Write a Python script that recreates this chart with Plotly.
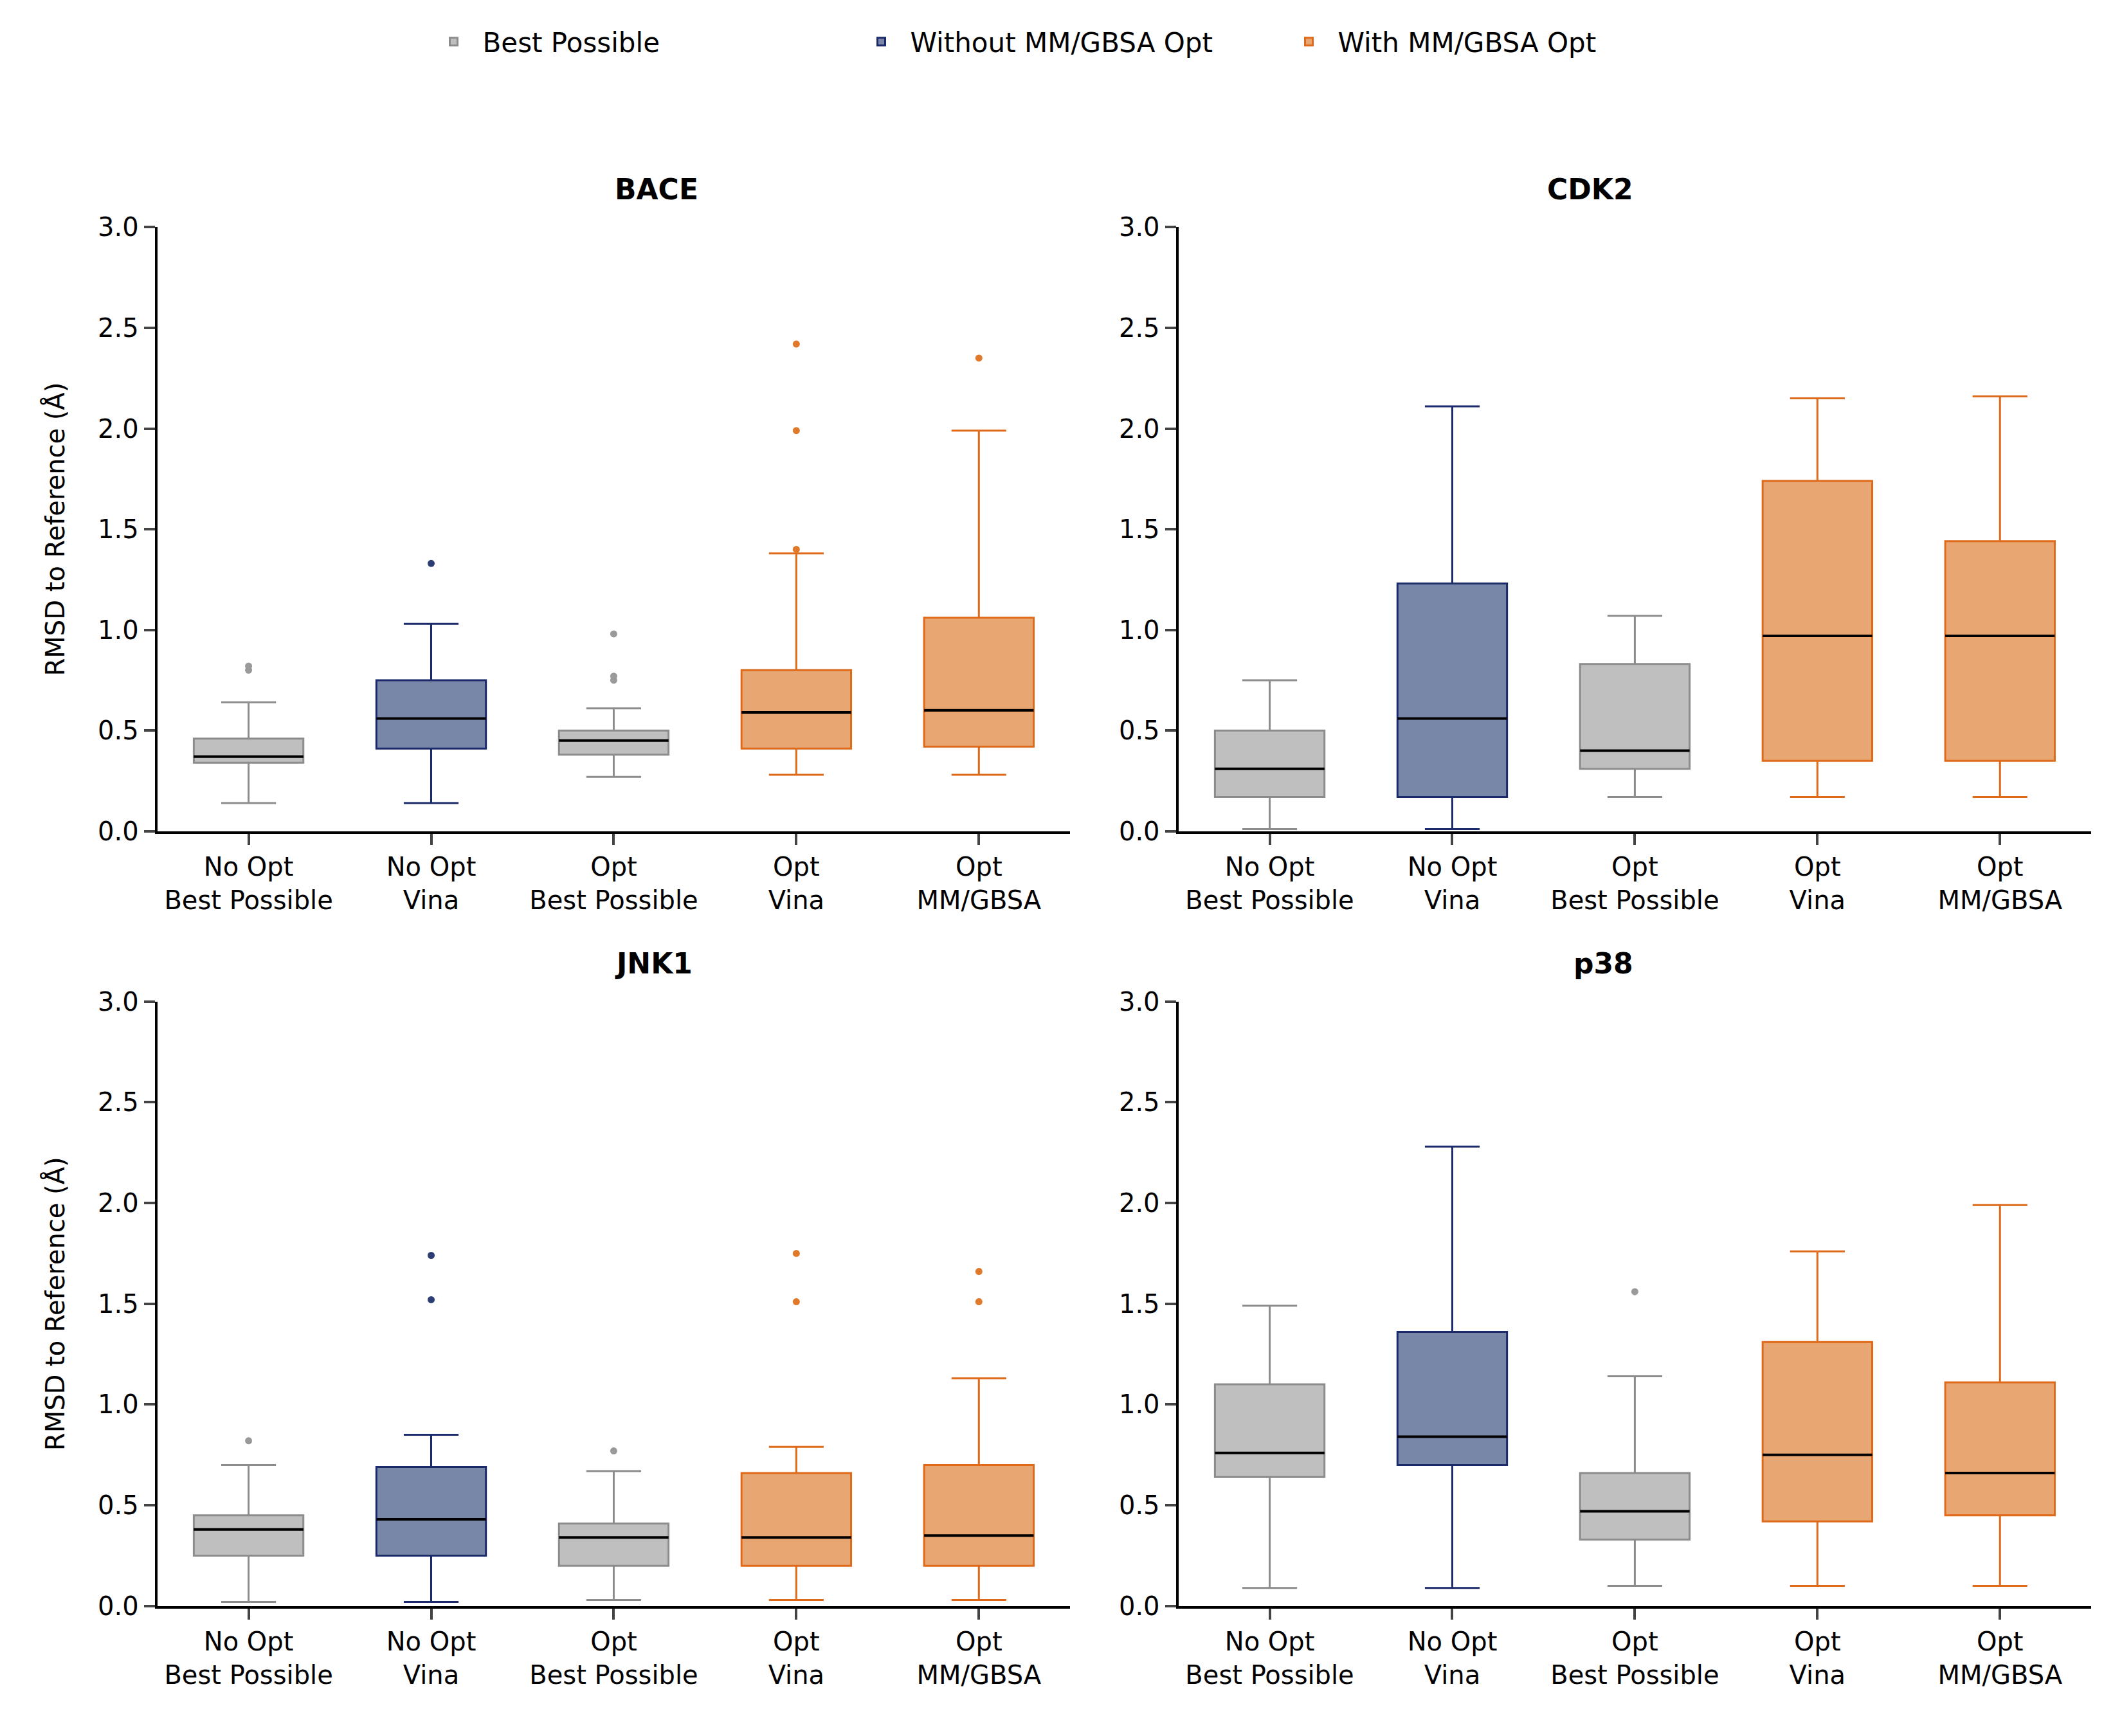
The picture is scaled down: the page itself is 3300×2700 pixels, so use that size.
import plotly.graph_objects as go

categories = ["No Opt<br>Best Possible", "No Opt<br>Vina", "Opt<br>Best Possible", "Opt<br>Vina", "Opt<br>MM/GBSA"]
groups = ["Best Possible", "Without MM/GBSA Opt", "Best Possible", "With MM/GBSA Opt", "With MM/GBSA Opt"]
legend_order = ["Best Possible", "Without MM/GBSA Opt", "With MM/GBSA Opt"]
panels = ["BACE", "CDK2", "JNK1", "p38"]

# [lowerfence, q1, median, q3, upperfence] per category
bace = [[0.14, 0.34, 0.37, 0.46, 0.64], [0.14, 0.41, 0.56, 0.75, 1.03], [0.27, 0.38, 0.45, 0.50, 0.61],
        [0.28, 0.41, 0.59, 0.80, 1.38], [0.28, 0.42, 0.60, 1.06, 1.99]]
bace_out = [[0.80, 0.82], [1.33], [0.75, 0.77, 0.98], [1.40, 1.99, 2.42], [2.35]]
cdk2 = [[0.01, 0.17, 0.31, 0.50, 0.75], [0.01, 0.17, 0.56, 1.23, 2.11], [0.17, 0.31, 0.40, 0.83, 1.07],
        [0.17, 0.35, 0.97, 1.74, 2.15], [0.17, 0.35, 0.97, 1.44, 2.16]]
cdk2_out = [[], [], [], [], []]
jnk1 = [[0.02, 0.25, 0.38, 0.45, 0.70], [0.02, 0.25, 0.43, 0.69, 0.85], [0.03, 0.20, 0.34, 0.41, 0.67],
        [0.03, 0.20, 0.34, 0.66, 0.79], [0.03, 0.20, 0.35, 0.70, 1.13]]
jnk1_out = [[0.82], [1.52, 1.74], [0.77], [1.51, 1.75], [1.51, 1.66]]
p38 = [[0.09, 0.64, 0.76, 1.10, 1.49], [0.09, 0.70, 0.84, 1.36, 2.28], [0.10, 0.33, 0.47, 0.66, 1.14],
       [0.10, 0.42, 0.75, 1.31, 1.76], [0.10, 0.45, 0.66, 1.11, 1.99]]
p38_out = [[], [], [1.56], [], []]

stats = [bace, cdk2, jnk1, p38]
outs = [bace_out, cdk2_out, jnk1_out, p38_out]

style = {
    "Best Possible": dict(fill="#bfbfbf", line="#8c8c8c", pt="#9a9a9a"),
    "Without MM/GBSA Opt": dict(fill="#7886a8", line="#1b2a6b", pt="#2b3d73"),
    "With MM/GBSA Opt": dict(fill="#e8a772", line="#de6a1a", pt="#e07a2a"),
}

xdom = [[0.0717, 0.5019], [0.5529, 0.9831]]
ydom = [[0.5246, 0.8785], [0.0705, 0.4248]]
W = 0.6
fig = go.Figure()
for g in legend_order:
    s = style[g]
    fig.add_trace(go.Bar(x=[None], y=[None], name=g, marker=dict(color=s["fill"], line=dict(color=s["line"], width=3)),
                         showlegend=True))
for p in range(4):
    r, c = divmod(p, 2)
    n = p + 1
    xa = "x" if n == 1 else f"x{n}"
    ya = "y" if n == 1 else f"y{n}"
    for i, cat in enumerate(categories):
        g = groups[i]
        s = style[g]
        lf, q1, med, q3, uf = stats[p][i]
        fig.add_trace(go.Box(x=[i], q1=[q1], median=[med], q3=[q3], lowerfence=[lf], upperfence=[uf],
                             width=W, whiskerwidth=0.5, fillcolor=s["fill"], line=dict(color=s["line"], width=3),
                             name=g, showlegend=False, xaxis=xa, yaxis=ya, boxpoints=False,
                             hoverinfo="skip"))
        fig.add_trace(go.Scatter(x=[i - W / 2, i + W / 2], y=[med, med], mode="lines",
                                 line=dict(color="black", width=4), showlegend=False, xaxis=xa, yaxis=ya))
        if outs[p][i]:
            fig.add_trace(go.Scatter(x=[i] * len(outs[p][i]), y=outs[p][i], mode="markers",
                                     marker=dict(color=s["pt"], size=11), showlegend=False, xaxis=xa, yaxis=ya))
    ax = dict(domain=xdom[c], anchor=ya, range=[-0.5, 4.5], tickvals=list(range(5)), ticktext=categories,
              showline=True, linecolor="black", linewidth=4, ticks="outside", ticklen=17, tickwidth=4,
              showgrid=False, zeroline=False, tickfont=dict(size=40, color="black"))
    ay = dict(domain=ydom[r], anchor=xa, range=[0, 3.0], tickvals=[0, 0.5, 1, 1.5, 2, 2.5, 3],
              ticktext=["0.0", "0.5", "1.0", "1.5", "2.0", "2.5", "3.0"],
              showline=True, linecolor="black", linewidth=4, ticks="outside", ticklen=17, tickwidth=4,
              showgrid=False, zeroline=False, tickfont=dict(size=40, color="black"))
    if c == 0:
        ay["title"] = dict(text="RMSD to Reference (Å)", font=dict(size=40, color="black"), standoff=40)
    fig.layout["xaxis" if n == 1 else f"xaxis{n}"] = ax
    fig.layout["yaxis" if n == 1 else f"yaxis{n}"] = ay
    fig.add_annotation(text=f"<b>{panels[p]}</b>", x=sum(xdom[c]) / 2, y=ydom[r][1] + 0.012,
                       xref="paper", yref="paper", showarrow=False, yanchor="bottom",
                       font=dict(size=44, color="black"))

fig.update_layout(width=3300, height=2700, plot_bgcolor="white", paper_bgcolor="white",
                  margin=dict(l=0, r=0, t=0, b=0),
                  font=dict(family="DejaVu Sans", color="black"),
                  legend=dict(orientation="h", x=0.5, xanchor="center", y=1.0, yanchor="top",
                              font=dict(size=42), itemwidth=80, entrywidthmode="pixels", entrywidth=570))
fig.write_html("out.html")
